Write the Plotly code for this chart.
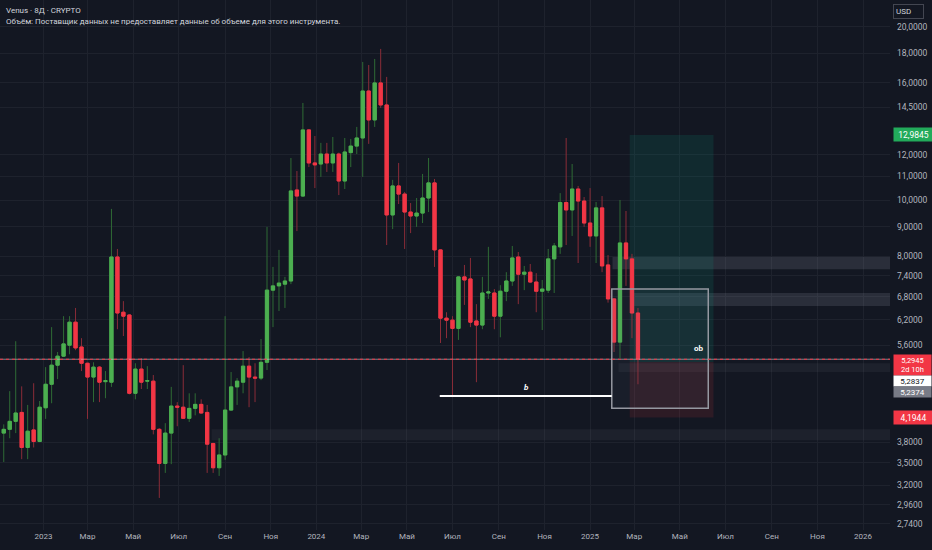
import numpy as np
import pandas as pd
import plotly.graph_objects as go

# 8-day candles, Venus / USD
dates = pd.date_range("2022-11-01", periods=108, freq="8D")

opens = [4.42, 3.94, 4.00, 4.13, 4.28, 3.72, 3.99, 3.81, 4.36, 4.79,
         5.17, 5.36, 5.60, 6.14, 5.56, 5.21, 4.93, 5.13, 4.84, 4.83,
         7.97, 6.39, 6.32, 4.62, 5.09, 4.85, 4.85, 4.00, 3.49, 3.94,
         4.39, 4.37, 4.18, 4.35, 4.42, 4.28, 3.78, 3.43, 3.61, 4.32,
         4.74, 4.83, 5.15, 4.93, 4.91, 5.23, 6.98, 7.10, 7.15, 7.24,
         10.42, 10.17, 13.25, 11.61, 11.56, 12.03, 11.61, 12.03, 10.80, 12.10,
         12.42, 12.83, 15.48, 13.79, 15.99, 14.64, 9.43, 10.59, 10.25, 9.54,
         9.39, 9.50, 10.09, 10.72, 8.20, 6.24, 6.19, 5.99, 7.36, 7.30,
         6.17, 6.07, 6.90, 6.90, 6.29, 6.95, 7.24, 7.97, 7.44, 7.50,
         7.21, 6.95, 6.98, 7.91, 8.30, 9.91, 9.62, 10.46, 9.97, 9.13,
         8.67, 9.70, 7.72, 6.74, 5.67, 8.43, 7.91, 6.37]
highs = [4.46, 4.08, 4.66, 5.69, 4.75, 4.41, 4.81, 4.48, 5.13, 6.02,
         5.45, 6.29, 6.29, 6.50, 5.76, 5.22, 5.23, 5.15, 5.05, 9.66,
         8.23, 6.68, 6.34, 5.21, 5.32, 5.15, 4.97, 4.02, 4.10, 4.74,
         4.46, 5.17, 4.62, 4.62, 4.51, 4.41, 3.79, 3.86, 6.29, 5.03,
         4.91, 5.47, 5.34, 5.21, 5.74, 8.99, 7.66, 8.20, 7.36, 11.84,
         11.24, 14.76, 13.30, 12.93, 12.58, 12.58, 12.88, 12.10, 12.83, 12.78,
         13.41, 17.39, 17.18, 17.60, 18.32, 16.38, 10.85, 11.61, 10.34, 9.89,
         10.09, 11.11, 11.84, 10.89, 8.22, 6.39, 6.29, 7.38, 7.72, 7.94,
         6.60, 7.36, 8.30, 7.01, 7.12, 7.50, 8.33, 8.13, 7.69, 7.75,
         7.47, 7.27, 8.23, 8.43, 10.29, 12.83, 11.56, 10.59, 10.13, 10.50,
         9.93, 10.17, 8.03, 6.76, 10.01, 9.58, 8.07, 6.50]
lows = [3.77, 3.51, 3.86, 3.94, 3.55, 3.55, 3.72, 3.80, 4.17, 4.44,
        4.89, 5.35, 5.40, 5.49, 5.05, 4.17, 4.46, 4.46, 4.53, 4.74,
        5.97, 5.81, 4.60, 4.51, 4.70, 4.70, 3.92, 3.04, 3.36, 3.48,
        4.05, 4.17, 4.12, 4.23, 4.26, 3.36, 3.36, 3.32, 3.54, 4.31,
        4.41, 4.62, 4.37, 4.46, 4.87, 5.07, 6.02, 6.42, 6.50, 7.15,
        8.84, 10.13, 11.42, 10.50, 10.98, 11.20, 11.20, 10.21, 10.46, 11.42,
        12.03, 10.98, 12.53, 13.41, 14.47, 8.36, 8.91, 9.85, 8.23, 8.77,
        8.99, 9.13, 9.54, 7.66, 5.65, 5.76, 4.55, 5.72, 6.58, 6.02,
        4.83, 5.97, 6.74, 5.97, 5.78, 6.68, 7.10, 6.60, 6.98, 7.18,
        6.39, 5.95, 6.90, 6.90, 8.07, 8.36, 8.67, 7.78, 8.99, 8.30,
        7.78, 7.50, 6.64, 5.45, 5.32, 7.10, 5.76, 4.79]
closes = [3.94, 4.00, 4.13, 4.27, 3.72, 3.97, 3.81, 4.37, 4.79, 5.17,
          5.36, 5.63, 6.14, 5.54, 5.21, 4.93, 5.13, 4.83, 4.86, 7.97,
          6.37, 6.29, 4.62, 5.09, 4.83, 4.86, 4.00, 3.49, 3.94, 4.39,
          4.37, 4.18, 4.35, 4.42, 4.27, 3.77, 3.43, 3.61, 4.32, 4.74,
          4.85, 5.15, 4.93, 4.91, 5.23, 6.98, 7.10, 7.18, 7.24, 10.38,
          10.17, 13.25, 11.61, 11.52, 12.03, 11.61, 12.03, 10.80, 12.13, 12.42,
          12.83, 15.48, 13.79, 15.99, 14.64, 9.43, 10.59, 10.25, 9.54, 9.39,
          9.50, 10.09, 10.72, 8.20, 6.24, 6.19, 5.99, 7.36, 7.27, 6.14,
          6.07, 6.90, 6.93, 6.29, 6.95, 7.24, 7.94, 7.44, 7.50, 7.21,
          6.95, 7.01, 7.91, 8.33, 9.91, 9.62, 10.46, 9.97, 9.13, 8.67,
          9.70, 7.69, 6.74, 5.67, 8.43, 7.91, 6.37, 5.2945]

# price scale labels (right side)
y_ticks = [20.0, 18.0, 16.0, 14.5, 12.0, 11.0, 10.0, 9.0, 8.0, 7.4, 6.8,
           6.2, 5.6, 3.8, 3.5, 3.2, 2.96, 2.74]
x_ticks = ["2023-01-01", "2023-03-01", "2023-05-01", "2023-07-01", "2023-09-01",
           "2023-11-01", "2024-01-01", "2024-03-01", "2024-05-01", "2024-07-01",
           "2024-09-01", "2024-11-01", "2025-01-01", "2025-03-01", "2025-05-01",
           "2025-07-01", "2025-09-01", "2025-11-01", "2026-01-01"]
x_labels = ["2023", "Мар", "Май", "Июл", "Сен", "Ноя", "2024", "Мар", "Май", "Июл",
            "Сен", "Ноя", "2025", "Мар", "Май", "Июл", "Сен", "Ноя", "2026"]

last_price = 5.2945
take_profit = 12.9845
entry_price = 5.2374
stop_loss = 4.1944
marker_price = 5.2837

BG = "#131722"
GRID = "#1e222d"
TXT = "#b2b5be"
UP, DOWN = "#4caf50", "#f23645"
UP_WICK, DOWN_WICK = "#2f6b35", "#8a2c38"
FONT = "Roboto, 'Noto Sans', sans-serif"


def fmt(v):
    return f"{v:.4f}".replace(".", ",")


o = np.array(opens)
c = np.array(closes)

fig = go.Figure()

# wicks (dim)
fig.add_trace(go.Candlestick(
    x=dates, open=opens, high=highs, low=lows, close=closes,
    increasing=dict(line=dict(color=UP_WICK, width=1), fillcolor=UP_WICK),
    decreasing=dict(line=dict(color=DOWN_WICK, width=1), fillcolor=DOWN_WICK),
    whiskerwidth=0, hoverinfo="skip", showlegend=False,
))
# bodies (bright) on top of the wicks
fig.add_trace(go.Candlestick(
    x=dates, open=opens, close=closes, high=np.maximum(o, c), low=np.minimum(o, c),
    increasing=dict(line=dict(color=UP, width=1), fillcolor=UP),
    decreasing=dict(line=dict(color=DOWN, width=1), fillcolor=DOWN),
    whiskerwidth=0, hoverinfo="skip", showlegend=False,
))

shapes = []
# order-block zones
zones = [("2025-01-31", 7.97, 7.59, 0.18),
         ("2025-02-26", 6.90, 6.55, 0.18),
         ("2025-02-08", 5.21, 5.03, 0.08),
         ("2023-08-14", 4.00, 3.83, 0.08)]
for x0, y0, y1, a in zones:
    shapes.append(dict(type="rect", xref="x", yref="y", x0=x0, x1="2026-06-01", y0=y0, y1=y1,
                       fillcolor=f"rgba(150,155,170,{a})", line=dict(width=0), layer="between"))
# long position tool
shapes.append(dict(type="rect", xref="x", yref="y", x0="2025-02-23", x1="2025-06-15",
                   y0=entry_price, y1=take_profit, fillcolor="rgba(8,153,129,0.15)",
                   line=dict(width=0), layer="between"))
shapes.append(dict(type="rect", xref="x", yref="y", x0="2025-02-23", x1="2025-06-15",
                   y0=stop_loss, y1=entry_price, fillcolor="rgba(242,54,69,0.12)",
                   line=dict(width=0), layer="between"))
# outlined box
shapes.append(dict(type="rect", xref="x", yref="y", x0="2025-01-30", x1="2025-06-08",
                   y0=4.35, y1=7.01, fillcolor="rgba(120,130,150,0.07)",
                   line=dict(color="#9598a1", width=1.5)))
# "b" level
shapes.append(dict(type="line", xref="x", yref="y", x0="2024-06-14", x1="2025-01-30",
                   y0=4.57, y1=4.57, line=dict(color="#ffffff", width=2)))
# last price line
shapes.append(dict(type="line", xref="paper", yref="y", x0=0, x1=1, y0=last_price, y1=last_price,
                   line=dict(color="rgba(200,203,212,0.6)", width=1)))
shapes.append(dict(type="line", xref="paper", yref="y", x0=0, x1=1, y0=last_price, y1=last_price,
                   line=dict(color=DOWN, width=1, dash="dot")))

L = np.log10
annotations = [
    dict(xref="paper", yref="paper", x=0, y=1, xanchor="left", yanchor="top", xshift=4, yshift=-4,
         text="Venus · 8Д · CRYPTO", showarrow=False, font=dict(size=8, color="#d1d4dc")),
    dict(xref="paper", yref="paper", x=0, y=1, xanchor="left", yanchor="top", xshift=4, yshift=-15,
         text="Объём: Поставщик данных не предоставляет данные об объеме для этого инструмента.",
         showarrow=False, font=dict(size=8, color="#d1d4dc")),
    dict(xref="paper", yref="paper", x=1, y=1, xanchor="left", yanchor="top", xshift=3, yshift=-4,
         text="USD     ", showarrow=False, font=dict(size=8, color="#d1d4dc"),
         bgcolor=BG, bordercolor="#434651", borderwidth=1, borderpad=2),
    dict(xref="x", yref="y", x="2024-10-08", y=L(4.72), text="<b><i>b</i></b>", showarrow=False,
         font=dict(size=8, color="#ffffff")),
    dict(xref="x", yref="y", x="2025-05-26", y=L(5.52), text="<b>ob</b>", showarrow=False,
         font=dict(size=8, color="#ffffff")),
]
# price tags on the scale (stacked where they collide, as the platform does)
tags = [(take_profit, fmt(take_profit), "#22ab5b", "#ffffff", 0, "middle", 8.5, 1.5),
        (last_price, fmt(last_price) + "<br>2d 10h", DOWN, "#ffffff", 5, "top", 7.5, 0.5),
        (marker_price, fmt(marker_price), "#ffffff", "#131722", -21, "middle", 8, 0.5),
        (entry_price, fmt(entry_price), "#787b86", "#ffffff", -30, "middle", 8, 0.5),
        (stop_loss, fmt(stop_loss), DOWN, "#ffffff", 0, "middle", 8.5, 1.5)]
for yv, txt, bg, fc, ys, ya, fs, pad in tags:
    annotations.append(dict(xref="paper", yref="y", x=1, y=L(yv), xanchor="left", yanchor=ya,
                            xshift=3, yshift=ys, text=txt, showarrow=False, align="center",
                            width=36, font=dict(size=fs, color=fc), bgcolor=bg, borderpad=pad))

fig.update_layout(
    width=932, height=550,
    margin=dict(l=0, r=42, t=0, b=20),
    paper_bgcolor=BG, plot_bgcolor=BG,
    font=dict(family=FONT, size=8, color=TXT),
    showlegend=False, boxgap=0.22,
    shapes=shapes, annotations=annotations,
    xaxis=dict(type="date", range=["2022-11-04", "2026-02-06"], rangeslider=dict(visible=False),
               tickvals=x_ticks, ticktext=x_labels, showgrid=True, gridcolor=GRID,
               zeroline=False, showline=False, ticks="", tickfont=dict(size=8, color=TXT)),
    yaxis=dict(type="log", side="right", range=[L(2.674), L(22.28)],
               tickvals=y_ticks, ticktext=[fmt(v) for v in y_ticks], ticklabelstandoff=6,
               showgrid=True, gridcolor=GRID, zeroline=False, showline=False,
               ticks="", tickfont=dict(size=8.5, color=TXT)),
)

# drop the default page margin so the chart fills the window
fig.write_html("out.html", config={"displayModeBar": False},
               post_script="document.body.style.margin='0';document.body.style.background='#131722';")
